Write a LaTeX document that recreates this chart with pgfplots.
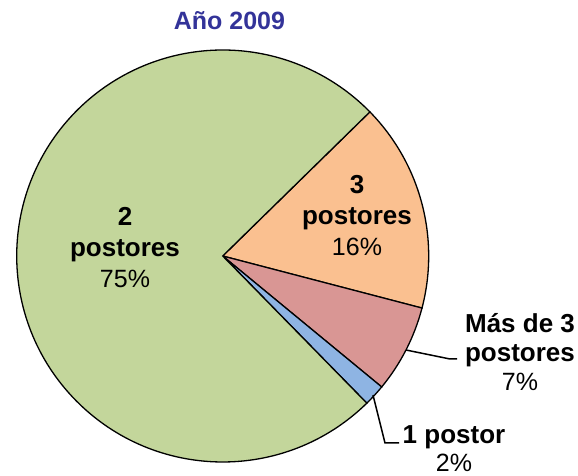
\documentclass[border=0pt]{standalone}
\usepackage{fontspec}
\setmainfont{Liberation Sans}
\usepackage{pgfplots}
\usepackage{pgfplotstable}
\pgfplotsset{compat=1.18}
\definecolor{cgreen}{HTML}{C3D69B}
\definecolor{corange}{HTML}{FAC090}
\definecolor{cpink}{HTML}{D99694}
\definecolor{cblue}{HTML}{8EB4E3}
\definecolor{ctitle}{RGB}{51,51,153}
\pgfplotstableread[col sep=comma]{
label,value
3 postores,16.4
Más de 3 postores,6.9
1 postor,1.7
2 postores,75.0
}\piedata
\begin{document}%
\begin{tikzpicture}
\pgfplotstablegetelem{0}{value}\of\piedata\let\vA\pgfplotsretval
\pgfplotstablegetelem{1}{value}\of\piedata\let\vB\pgfplotsretval
\pgfplotstablegetelem{2}{value}\of\piedata\let\vC\pgfplotsretval
\pgfplotstablegetelem{3}{value}\of\piedata\let\vD\pgfplotsretval
\pgfmathsetmacro\aA{44.4}
\pgfmathsetmacro\aB{\aA-3.6*\vA}
\pgfmathsetmacro\aC{\aB-3.6*\vB}
\pgfmathsetmacro\aD{\aC-3.6*\vC}
\pgfmathsetmacro\aE{\aD-3.6*\vD}
\begin{axis}[at={(0,0)}, anchor=origin, width=578bp, height=476bp, scale only axis,
  xmin=0, xmax=578, ymin=0, ymax=476, hide axis, clip=false]
\def\cx{222.7}\def\cy{220}\def\R{206bp}
\filldraw[fill=corange, draw=black, line width=1.3bp] (axis cs:\cx,\cy) -- ++(\aA:\R) arc[start angle=\aA, end angle=\aB, radius=\R] -- cycle;
\filldraw[fill=cpink, draw=black, line width=1.3bp] (axis cs:\cx,\cy) -- ++(\aB:\R) arc[start angle=\aB, end angle=\aC, radius=\R] -- cycle;
\filldraw[fill=cblue, draw=black, line width=1.3bp] (axis cs:\cx,\cy) -- ++(\aC:\R) arc[start angle=\aC, end angle=\aD, radius=\R] -- cycle;
\filldraw[fill=cgreen, draw=black, line width=1.3bp] (axis cs:\cx,\cy) -- ++(\aD:\R) arc[start angle=\aD, end angle=\aE, radius=\R] -- cycle;
\draw[black, line width=1.5bp] (axis cs:406,126) -- (axis cs:450,117) -- (axis cs:457,117);
\draw[black, line width=1.5bp] (axis cs:373,81) -- (axis cs:385,33) -- (axis cs:399,33);
\tikzset{lbl/.style={align=center, inner sep=0pt, font=\fontsize{26bp}{31bp}\selectfont\bfseries}}
\node[lbl] at (axis cs:125,228) {2\\ postores\\ {\mdseries\fontsize{25bp}{31bp}\selectfont 75\%}};
\node[lbl] at (axis cs:357,260) {3\\ postores\\ {\mdseries\fontsize{25bp}{31bp}\selectfont 16\%}};
\node[lbl, font=\fontsize{26bp}{29bp}\selectfont\bfseries] at (axis cs:520,124) {Más de 3\\ postores\\ {\mdseries\fontsize{25bp}{29bp}\selectfont 7\%}};
\node[lbl, font=\fontsize{26bp}{28bp}\selectfont\bfseries] at (axis cs:454,27) {1 postor\\ {\mdseries\fontsize{25bp}{28bp}\selectfont 2\%}};
\node[inner sep=0pt, text=ctitle, font=\fontsize{25bp}{30bp}\selectfont\bfseries] at (axis cs:229.5,455) {Año 2009};
\end{axis}
\pgfresetboundingbox
\path (0,0) rectangle (578bp,476bp);
\end{tikzpicture}%
\end{document}
